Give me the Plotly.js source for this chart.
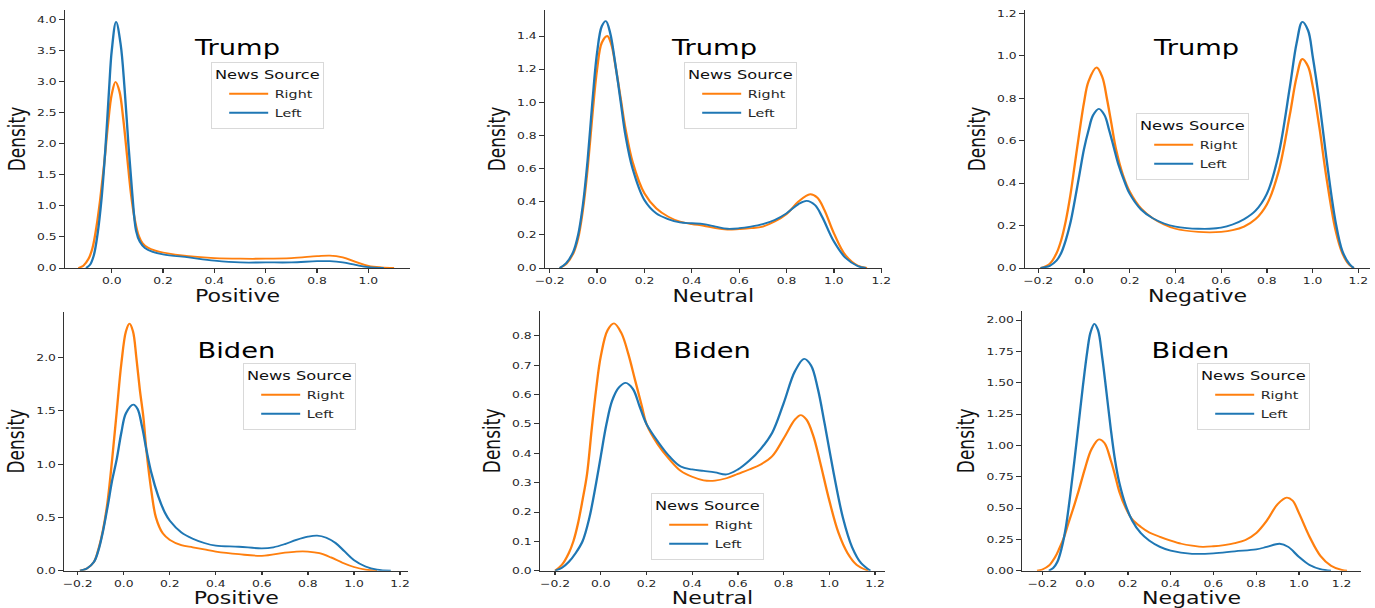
<!DOCTYPE html>
<html>
<head>
<meta charset="utf-8">
<script src="https://cdn.plot.ly/plotly-3.0.1.min.js"></script>
<style>
  html, body { margin: 0; padding: 0; background: #ffffff; overflow: hidden; }
  #plot { width: 1058px; height: 608px; transform: scaleX(1.29962); transform-origin: 0 0; }
</style>
</head>
<body>
<div id="plot"></div>
<script>
// ---------------- DATA ----------------
const seriesNames = ["Right", "Left"];
const panelTitles = ["Trump", "Trump", "Trump", "Biden", "Biden", "Biden"];
const xAxisTitles = ["Positive", "Neutral", "Negative", "Positive", "Neutral", "Negative"];
const yAxisTitle = "Density";
const legendTitle = "News Source";

// Trump – Positive
const trumpPosRightX = [-0.13,-0.11,-0.09,-0.075,-0.06,-0.045,-0.03,-0.015,0.0,0.015,0.03,0.045,0.06,0.075,0.09,0.105,0.12,0.14,0.17,0.2,0.3,0.4,0.5,0.6,0.7,0.8,0.85,0.9,0.95,1.0,1.05,1.1];
const trumpPosRightY = [0.0,0.04,0.15,0.32,0.65,1.1,1.65,2.3,2.8,3.0,2.85,2.4,1.8,1.2,0.78,0.52,0.4,0.33,0.28,0.25,0.19,0.16,0.15,0.15,0.16,0.19,0.2,0.17,0.1,0.035,0.01,0.0];
const trumpPosLeftX = [-0.10,-0.085,-0.07,-0.055,-0.04,-0.025,-0.01,0.0,0.017,0.035,0.05,0.065,0.08,0.095,0.11,0.13,0.16,0.2,0.3,0.4,0.5,0.6,0.7,0.8,0.85,0.9,0.95,1.0,1.06];
const trumpPosLeftY = [0.0,0.05,0.2,0.55,1.1,1.9,2.9,3.5,3.97,3.6,2.9,2.0,1.2,0.6,0.42,0.32,0.26,0.22,0.17,0.12,0.09,0.09,0.09,0.11,0.11,0.09,0.05,0.015,0.0];

// Trump – Neutral
const trumpNeuRightX = [-0.158,-0.13,-0.1,-0.08,-0.06,-0.04,-0.02,0.0,0.02,0.043,0.06,0.08,0.1,0.12,0.15,0.2,0.25,0.3,0.35,0.4,0.45,0.5,0.55,0.6,0.65,0.7,0.75,0.8,0.85,0.9,0.93,0.96,1.0,1.05,1.1,1.14];
const trumpNeuRightY = [0.0,0.025,0.09,0.18,0.35,0.6,0.92,1.2,1.36,1.40,1.35,1.2,1.02,0.84,0.64,0.45,0.36,0.31,0.28,0.265,0.255,0.24,0.232,0.235,0.24,0.25,0.28,0.325,0.4,0.445,0.425,0.35,0.21,0.075,0.015,0.0];
const trumpNeuLeftX = [-0.158,-0.13,-0.1,-0.08,-0.06,-0.04,-0.02,0.0,0.02,0.037,0.055,0.075,0.1,0.12,0.15,0.2,0.25,0.3,0.35,0.4,0.45,0.5,0.55,0.6,0.65,0.7,0.75,0.8,0.85,0.885,0.92,0.95,1.0,1.05,1.1,1.135];
const trumpNeuLeftY = [0.0,0.03,0.1,0.2,0.38,0.65,1.0,1.3,1.46,1.49,1.42,1.25,1.0,0.8,0.6,0.41,0.33,0.295,0.275,0.27,0.265,0.25,0.237,0.24,0.25,0.265,0.29,0.33,0.385,0.405,0.38,0.31,0.16,0.06,0.012,0.0];

// Trump – Negative
const trumpNegRightX = [-0.19,-0.15,-0.12,-0.1,-0.08,-0.06,-0.04,-0.02,0.0,0.02,0.055,0.08,0.1,0.12,0.14,0.17,0.2,0.25,0.3,0.35,0.4,0.5,0.55,0.6,0.65,0.7,0.75,0.8,0.85,0.9,0.93,0.955,0.98,1.0,1.03,1.06,1.1,1.13,1.16,1.18];
const trumpNegRightY = [0.0,0.02,0.07,0.13,0.22,0.34,0.49,0.64,0.78,0.88,0.945,0.9,0.8,0.68,0.56,0.44,0.36,0.28,0.235,0.205,0.185,0.17,0.168,0.17,0.178,0.195,0.23,0.3,0.45,0.72,0.9,0.985,0.95,0.86,0.66,0.43,0.18,0.07,0.015,0.0];
const trumpNegLeftX = [-0.19,-0.15,-0.12,-0.1,-0.08,-0.06,-0.04,-0.02,0.0,0.02,0.04,0.065,0.09,0.11,0.13,0.15,0.18,0.2,0.25,0.3,0.35,0.4,0.45,0.5,0.55,0.6,0.65,0.7,0.75,0.8,0.85,0.9,0.93,0.955,0.98,1.0,1.03,1.06,1.1,1.13,1.16,1.18];
const trumpNegLeftY = [0.0,0.01,0.035,0.07,0.13,0.21,0.32,0.44,0.56,0.65,0.72,0.75,0.72,0.65,0.57,0.49,0.4,0.35,0.275,0.235,0.21,0.195,0.188,0.185,0.185,0.19,0.205,0.23,0.27,0.35,0.53,0.85,1.06,1.16,1.12,1.0,0.78,0.52,0.22,0.08,0.02,0.0];

// Biden – Positive
const bidenPosRightX = [-0.19,-0.16,-0.13,-0.11,-0.09,-0.07,-0.05,-0.03,-0.01,0.01,0.025,0.04,0.055,0.07,0.085,0.1,0.12,0.14,0.17,0.2,0.25,0.3,0.35,0.4,0.5,0.6,0.7,0.75,0.8,0.85,0.9,0.95,1.0,1.05,1.1];
const bidenPosRightY = [0.0,0.02,0.08,0.2,0.38,0.65,1.05,1.5,1.95,2.25,2.32,2.25,2.0,1.7,1.45,1.1,0.75,0.5,0.35,0.29,0.24,0.22,0.2,0.18,0.155,0.14,0.17,0.18,0.18,0.165,0.125,0.075,0.035,0.01,0.0];
const bidenPosLeftX = [-0.19,-0.16,-0.13,-0.11,-0.09,-0.07,-0.05,-0.03,-0.01,0.01,0.042,0.06,0.08,0.1,0.12,0.15,0.18,0.2,0.25,0.3,0.35,0.4,0.5,0.6,0.65,0.7,0.75,0.8,0.84,0.88,0.92,0.96,1.0,1.05,1.1,1.16];
const bidenPosLeftY = [0.0,0.02,0.08,0.19,0.37,0.6,0.85,1.05,1.3,1.48,1.56,1.52,1.35,1.12,0.92,0.7,0.54,0.47,0.36,0.3,0.26,0.235,0.225,0.21,0.22,0.25,0.29,0.32,0.33,0.31,0.26,0.18,0.1,0.04,0.01,0.0];

// Biden – Neutral
const bidenNeuRightX = [-0.2,-0.17,-0.14,-0.12,-0.1,-0.08,-0.06,-0.04,-0.02,0.0,0.03,0.058,0.09,0.12,0.15,0.18,0.2,0.25,0.3,0.35,0.4,0.45,0.5,0.55,0.6,0.65,0.7,0.75,0.8,0.85,0.875,0.9,0.93,0.96,1.0,1.04,1.08,1.12,1.17];
const bidenNeuRightY = [0.0,0.02,0.06,0.1,0.16,0.24,0.33,0.48,0.62,0.73,0.82,0.843,0.81,0.74,0.65,0.56,0.5,0.43,0.38,0.34,0.32,0.308,0.307,0.315,0.33,0.345,0.362,0.39,0.45,0.515,0.53,0.515,0.46,0.37,0.24,0.13,0.06,0.02,0.0];
const bidenNeuLeftX = [-0.2,-0.17,-0.14,-0.11,-0.08,-0.05,-0.02,0.0,0.025,0.05,0.08,0.109,0.14,0.17,0.2,0.25,0.3,0.35,0.4,0.45,0.5,0.55,0.6,0.65,0.7,0.75,0.8,0.85,0.89,0.92,0.95,0.98,1.02,1.06,1.1,1.14,1.18];
const bidenNeuLeftY = [0.0,0.01,0.03,0.06,0.1,0.18,0.3,0.39,0.5,0.58,0.625,0.64,0.62,0.56,0.5,0.44,0.39,0.355,0.345,0.34,0.335,0.328,0.345,0.375,0.415,0.47,0.57,0.68,0.722,0.7,0.62,0.5,0.33,0.18,0.08,0.025,0.0];

// Biden – Negative
const bidenNegRightX = [-0.225,-0.2,-0.17,-0.14,-0.12,-0.1,-0.08,-0.055,-0.03,0.0,0.03,0.065,0.09,0.12,0.14,0.16,0.19,0.22,0.26,0.3,0.35,0.4,0.45,0.5,0.55,0.6,0.65,0.7,0.75,0.8,0.85,0.9,0.943,0.97,1.0,1.05,1.1,1.15,1.2,1.225];
const bidenNegRightY = [0.0,0.01,0.04,0.11,0.18,0.26,0.37,0.5,0.64,0.82,0.97,1.048,1.02,0.88,0.76,0.63,0.5,0.41,0.35,0.305,0.27,0.24,0.215,0.2,0.19,0.195,0.205,0.22,0.245,0.3,0.4,0.53,0.583,0.56,0.46,0.27,0.12,0.04,0.006,0.0];
const bidenNegLeftX = [-0.17,-0.15,-0.13,-0.11,-0.09,-0.07,-0.05,-0.03,-0.01,0.01,0.025,0.043,0.06,0.08,0.1,0.12,0.14,0.16,0.19,0.22,0.26,0.3,0.35,0.4,0.5,0.6,0.7,0.8,0.85,0.91,0.95,1.0,1.05,1.1,1.15];
const bidenNegLeftY = [0.0,0.02,0.07,0.18,0.35,0.6,0.88,1.18,1.48,1.75,1.9,1.97,1.92,1.7,1.42,1.13,0.88,0.7,0.52,0.4,0.3,0.24,0.19,0.16,0.135,0.138,0.155,0.17,0.19,0.215,0.19,0.11,0.045,0.012,0.0];

const rightXs = [trumpPosRightX, trumpNeuRightX, trumpNegRightX, bidenPosRightX, bidenNeuRightX, bidenNegRightX];
const rightYs = [trumpPosRightY, trumpNeuRightY, trumpNegRightY, bidenPosRightY, bidenNeuRightY, bidenNegRightY];
const leftXs  = [trumpPosLeftX, trumpNeuLeftX, trumpNegLeftX, bidenPosLeftX, bidenNeuLeftX, bidenNegLeftX];
const leftYs  = [trumpPosLeftY, trumpNeuLeftY, trumpNegLeftY, bidenPosLeftY, bidenNeuLeftY, bidenNegLeftY];

// ---------------- LAYOUT / STYLE ----------------
const W0 = 1375, H0 = 608;
const colors = { Right: "#ff7f0e", Left: "#1f77b4" };
const FONT = "DejaVu Sans, Liberation Sans, sans-serif";

// panel geometry in reference pixels: [x0, x1, y0(top), y1(bottom)]
const panelBox = [
  [65, 410, 10, 268], [545, 881.7, 10, 268], [1025, 1370, 10, 268],
  [64.3, 408.3, 311.7, 570.7], [540, 885, 311, 570.7], [1022.3, 1360.7, 311, 570.7]
];
const xRanges = [[-0.182, 1.162], [-0.22, 1.202], [-0.258, 1.251], [-0.258, 1.236], [-0.266, 1.244], [-0.294, 1.289]];
const yRanges = [[0, 4.16], [0, 1.557], [0, 1.216], [0, 2.432], [0, 0.885], [0, 2.072]];
const yDticks = [0.5, 0.2, 0.2, 0.5, 0.1, 0.25];
const yFormats = [".1f", ".1f", ".1f", ".1f", ".1f", ".2f"];
const titlePos = [[236.7, 48], [713, 48], [1196.3, 48], [236.7, 350.7], [712, 350.7], [1191, 350.7]];
const legendPos = [[211, 62], [684, 62], [1136, 113], [243, 363], [651, 493], [1197, 363]];

const traces = [];
const layout = {
  width: 1058, height: 608,
  margin: { l: 0, r: 0, t: 0, b: 0 },
  paper_bgcolor: "#ffffff", plot_bgcolor: "#ffffff",
  font: { family: FONT, color: "#262626" },
  showlegend: true,
  annotations: []
};

for (let i = 0; i < 6; i++) {
  const sfx = i === 0 ? "" : String(i + 1);
  const legKey = "legend" + sfx;
  const b = panelBox[i];
  const xa = {
    domain: [b[0] / W0, b[1] / W0],
    range: xRanges[i], anchor: "y" + sfx,
    showline: true, linecolor: "#333333", linewidth: 1,
    ticks: "outside", ticklen: 3.5, tickwidth: 1, tickcolor: "#333333",
    tick0: 0, dtick: 0.2, tickformat: ".1f",
    showgrid: false, zeroline: false,
    tickfont: { family: FONT, size: 9.5, color: "#262626" },
    title: { text: xAxisTitles[i], font: { family: FONT, size: 17, color: "#111111" }, standoff: 3 }
  };
  const ya = {
    domain: [1 - b[3] / H0, 1 - b[2] / H0],
    range: yRanges[i], anchor: "x" + sfx,
    showline: true, linecolor: "#333333", linewidth: 1,
    ticks: "outside", ticklen: 3.5, tickwidth: 1, tickcolor: "#333333",
    tick0: 0, dtick: yDticks[i], tickformat: yFormats[i],
    showgrid: false, zeroline: false,
    tickfont: { family: FONT, size: 9.5, color: "#262626" },
    title: { text: yAxisTitle, font: { family: FONT, size: 17, color: "#111111" }, standoff: 4 }
  };
  layout["xaxis" + sfx] = xa;
  layout["yaxis" + sfx] = ya;

  traces.push({
    x: rightXs[i], y: rightYs[i], type: "scatter", mode: "lines",
    name: seriesNames[0], xaxis: "x" + sfx, yaxis: "y" + sfx, legend: legKey,
    line: { color: colors.Right, width: 1.8, shape: "spline", smoothing: 1 },
    hoverinfo: "skip"
  });
  traces.push({
    x: leftXs[i], y: leftYs[i], type: "scatter", mode: "lines",
    name: seriesNames[1], xaxis: "x" + sfx, yaxis: "y" + sfx, legend: legKey,
    line: { color: colors.Left, width: 1.8, shape: "spline", smoothing: 1 },
    hoverinfo: "skip"
  });

  layout[legKey] = {
    x: legendPos[i][0] / W0, y: 1 - legendPos[i][1] / H0,
    xanchor: "left", yanchor: "top",
    bgcolor: "rgba(255,255,255,0.85)", bordercolor: "#d9d9d9", borderwidth: 1,
    font: { family: FONT, size: 11, color: "#262626" },
    title: { text: legendTitle, side: "top center", font: { family: FONT, size: 12.5, color: "#111111" } },
    itemwidth: 30, tracegroupgap: 0, indentation: 8, traceorder: "normal"
  };

  layout.annotations.push({
    xref: "paper", yref: "paper",
    x: titlePos[i][0] / W0, y: 1 - titlePos[i][1] / H0,
    xanchor: "center", yanchor: "middle",
    text: panelTitles[i], showarrow: false,
    font: { family: FONT, size: 21, color: "#000000" }
  });
}

Plotly.newPlot("plot", traces, layout, { staticPlot: true, displayModeBar: false, responsive: false });
</script>
</body>
</html>
